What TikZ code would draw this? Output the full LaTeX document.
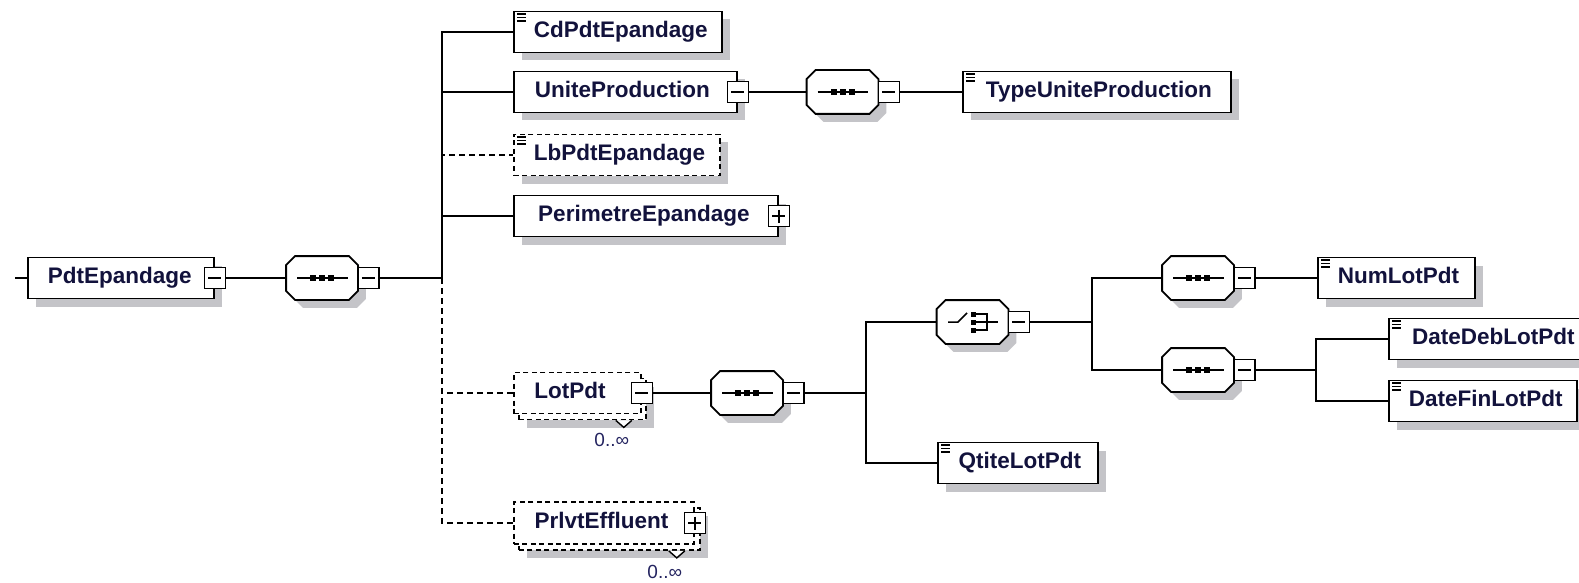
\documentclass[tikz,border=0pt]{standalone}
\usepackage{fontspec}
\setmainfont{Liberation Sans}
\usetikzlibrary{calc,shadows}
\definecolor{shc}{RGB}{196,196,200}
\definecolor{txt}{RGB}{18,18,60}
\definecolor{mul}{RGB}{36,36,96}
\newcommand\elbox[3]{\hbox to #1pt{\hspace{20pt}\hfil #3\hfil\hspace{#2pt}}}
\newcommand\octa[1]{%
  \foreach \dx/\dy/\st in {8/8/octshadow,0/0/octframe}{%
    \path[\st] ($(#1.north west)+(9+\dx,\dy)$) -- ($(#1.north east)+(-9+\dx,\dy)$)
      -- ($(#1.north east)+(\dx,9+\dy)$) -- ($(#1.south east)+(\dx,-9+\dy)$)
      -- ($(#1.south east)+(-9+\dx,\dy)$) -- ($(#1.south west)+(9+\dx,\dy)$)
      -- ($(#1.south west)+(\dx,-9+\dy)$) -- ($(#1.north west)+(\dx,9+\dy)$) -- cycle;}}
\newcommand\seqicon[1]{%
  \draw[line width=1.5pt] ([xshift=11pt]#1.west) -- ([xshift=-10pt]#1.east);
  \foreach \k in {-9,0,9} \fill ($(#1.center)+(\k-3,-3)$) rectangle ++(6,6);}
\newcommand\choiceicon[1]{%
  \draw[line width=1.5pt] ($(#1.center)+(-24.5,0)$) -- ++(10,0) -- ++(9,-9);
  \foreach \k in {-8,0,8} \fill ($(#1.center)+(-2,\k-2.5)$) rectangle ++(5,5);
  \draw[line width=1.5pt] ($(#1.center)+(1,-8)$) -- ++(13.5,0) -- ++(0,16) -- ++(-13.5,0);
  \draw[line width=1.5pt] ($(#1.center)+(1,0)$) -- ++(24.5,0);}
\newcommand\elicon[1]{%
  \draw[line width=1.4pt] ([shift={(4,3.5)}]#1.north west) -- ++(9,0)
    ([shift={(4,7)}]#1.north west) -- ++(9,0)
    ([shift={(4,10.5)}]#1.north west) -- ++(9,0);}
\begin{document}
\begin{tikzpicture}[x=1pt,y=-1pt,line width=1.8pt,
  every node/.style={text=txt},
  ebox/.style={draw, fill=white, rectangle, inner sep=0pt, minimum height=41pt,
    text height=16pt, text depth=5pt, anchor=west,
    font=\fontsize{22.5}{26}\selectfont\bfseries},
  elem/.style={ebox, drop shadow={shadow xshift=8pt, shadow yshift=-8pt, fill=shc, opacity=1, draw=none}},
  dsh/.style={dash pattern=on 6pt off 4pt},
  bdsh/.style={dash pattern=on 5pt off 3.5pt},
  comp/.style={rectangle, inner sep=0pt, minimum width=70pt, minimum height=42pt},
  octshadow/.style={fill=shc},
  octframe/.style={draw, fill=white},
  sqm/.style={draw, fill=white, rectangle, inner sep=0pt, minimum size=21pt, line width=1.6pt,
    path picture={\draw[line width=1.4pt] ([xshift=4pt]path picture bounding box.west) -- ([xshift=-4pt]path picture bounding box.east);}},
  sqp/.style={draw, fill=white, rectangle, inner sep=0pt, minimum size=21pt, line width=1.6pt,
    path picture={\draw[line width=1.4pt] ([xshift=4pt]path picture bounding box.west) -- ([xshift=-4pt]path picture bounding box.east)
      ([yshift=-4pt]path picture bounding box.north) -- ([yshift=4pt]path picture bounding box.south);}},
  mult/.style={font=\fontsize{19}{22}\selectfont, text=mul, inner sep=0pt}]
\useasboundingbox (0,0) rectangle (1579,583);

% root
\node[elem] (pdt) at (27,278) {\elbox{186}{26}{PdtEpandage}};
\node[sqm] (pdtS) at (pdt.east) {};
\node[comp] (s1) at (322,278) {};
\octa{s1}
\seqicon{s1}
\node[sqm] (s1S) at ([xshift=10.5pt]s1.east) {};

% children of root sequence
\node[elem] (cd) at (513,32) {\elbox{208}{16}{CdPdtEpandage}};
\elicon{cd}
\node[elem] (up) at (513,92) {\elbox{223}{26}{UniteProduction}};
\node[sqm] (upS) at (up.east) {};
\node[elem, bdsh] (lb) at (513,155) {\elbox{206}{16}{LbPdtEpandage}};
\elicon{lb}
\node[elem] (per) at (513,216) {\elbox{264}{24}{PerimetreEpandage}};
\node[sqp] (perS) at (per.east) {};

% LotPdt (repeated)
\node[elem, bdsh, minimum width=127pt] (lotB) at (518,399) {};
\draw[fill=white, line width=1.4pt] ([xshift=-31pt]lotB.south east) -- ++(8,7) -- ++(8,-7);
\node[ebox, bdsh] (lot) at (513,393) {\elbox{127}{35}{LotPdt}};
\node[sqm] (lotS) at (lot.east) {};
\node[mult] (lotM) at ([shift={(-35,20)}]lotB.south east) {0..∞};

% PrlvtEffluent (repeated)
\node[elem, bdsh, minimum width=181pt, minimum height=42pt] (prlB) at (518,529) {};
\draw[fill=white, line width=1.4pt] ([xshift=-32pt]prlB.south east) -- ++(8,7) -- ++(8,-7);
\node[ebox, bdsh, minimum height=42pt] (prl) at (513,523) {\elbox{180}{25}{PrlvtEffluent}};
\node[sqp] (prlS) at (prl.east) {};
\node[mult] (prlM) at ([shift={(-36,21)}]prlB.south east) {0..∞};

% UniteProduction branch
\node[comp] (s2) at (842.5,92) {};
\octa{s2}
\seqicon{s2}
\node[sqm] (s2S) at ([xshift=10.5pt]s2.east) {};
\node[elem] (type) at (962,92) {\elbox{268}{16}{TypeUniteProduction}};
\elicon{type}

% LotPdt branch
\node[comp] (s3) at (747,393) {};
\octa{s3}
\seqicon{s3}
\node[sqm] (s3S) at ([xshift=10.5pt]s3.east) {};
\node[comp] (ch) at (972.5,322) {};
\octa{ch}
\choiceicon{ch}
\node[sqm] (chS) at ([xshift=10.5pt]ch.east) {};
\node[elem] (qt) at (937,463) {\elbox{160}{16}{QtiteLotPdt}};
\elicon{qt}
\node[comp] (s4) at (1198,278) {};
\octa{s4}
\seqicon{s4}
\node[sqm] (s4S) at ([xshift=10.5pt]s4.east) {};
\node[comp] (s5) at (1198,370) {};
\octa{s5}
\seqicon{s5}
\node[sqm] (s5S) at ([xshift=10.5pt]s5.east) {};
\node[elem] (num) at (1317,278) {\elbox{157}{16}{NumLotPdt}};
\elicon{num}
\node[elem] (deb) at (1388,339) {\elbox{205}{16}{DateDebLotPdt}};
\elicon{deb}
\node[elem] (fin) at (1388,401) {\elbox{188}{16}{DateFinLotPdt}};
\elicon{fin}

% connectors
\coordinate (in) at (15,278);
\draw (in) -- (pdt.west);
\draw (pdtS.east) -- (s1.west);
\coordinate (b1) at (442,278);
\draw (s1S.east) -- (b1);
\draw (b1) |- (cd.west);
\draw (b1) |- (up.west);
\draw (b1) |- (per.west);
\draw[dsh] (b1) |- (lb.west);
\draw[dsh] (b1) |- (lot.west);
\draw[dsh] (b1) |- (prl.west);
\draw (upS.east) -- (s2.west);
\draw (s2S.east) -- (type.west);
\draw (lotS.east) -- (s3.west);
\coordinate (b2) at (866,393);
\draw (s3S.east) -- (b2);
\draw (b2) |- (ch.west);
\draw (b2) |- (qt.west);
\coordinate (b3) at (1092,322);
\draw (chS.east) -- (b3);
\draw (b3) |- (s4.west);
\draw (b3) |- (s5.west);
\draw (s4S.east) -- (num.west);
\coordinate (b4) at (1316,370);
\draw (s5S.east) -- (b4);
\draw (b4) |- (deb.west);
\draw (b4) |- (fin.west);
\end{tikzpicture}
\end{document}
